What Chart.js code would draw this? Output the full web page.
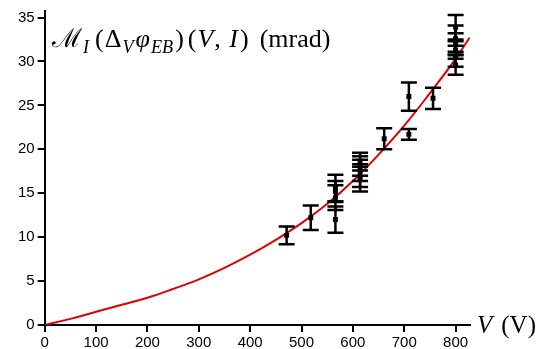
<!DOCTYPE html>
<html lang="en">
<head>
<meta charset="UTF-8" />
<title>M_I vs V</title>
<script src="https://cdn.jsdelivr.net/npm/chart.js"></script>
<style>
  html, body { margin: 0; padding: 0; background: #fff; }
  #wrap { width: 550px; height: 349px; }
</style>
</head>
<body>
<div id="wrap"><canvas id="chart"></canvas></div>
<script>
// measured points (V in volts, value in mrad, symmetric error)
const pointV = [471, 518, 566, 566, 566, 566, 614, 614, 614, 614, 614, 661, 709, 709, 756, 800, 800, 800, 800, 800, 800];
const pointM = [10.2, 12.2, 15.6, 15.2, 14.5, 12.0, 18.6, 18.1, 17.6, 17.0, 16.6, 21.2, 26.0, 21.7, 25.8, 33.9, 32.6, 32.0, 31.3, 30.6, 29.6];
const pointErr = [1.0, 1.4, 1.5, 1.2, 1.4, 1.5, 1.0, 1.1, 1.2, 1.3, 1.4, 1.2, 1.6, 0.6, 1.2, 1.4, 1.5, 1.2, 1.0, 1.2, 1.1];

// red fit curve
const curveV = [0, 50, 100, 150, 200, 250, 300, 350, 400, 450, 500, 550, 600, 650, 700, 750, 800, 827];
const curveM = [0, 0.7, 1.5, 2.3, 3.1, 4.1, 5.2, 6.5, 8.0, 9.7, 11.6, 13.8, 16.4, 19.4, 22.7, 26.4, 30.3, 32.7];

const xTicks = [0, 100, 200, 300, 400, 500, 600, 700, 800];
const yTicks = [0, 5, 10, 15, 20, 25, 30, 35];

const tickFont = { family: "'Liberation Sans', Arial, sans-serif", size: 15, lineHeight: 1 };
const serif = "'Liberation Serif', 'DejaVu Serif', serif";

// error bars via the scales (drawn under the square markers)
const errorBars = {
  id: "errorBars",
  beforeDatasetDraw(chart, args) {
    if (args.index !== 1) return;
    const { ctx, scales: { x, y } } = chart;
    ctx.save();
    ctx.strokeStyle = "#000";
    ctx.lineWidth = 2.5;
    pointV.forEach((v, i) => {
      const px = x.getPixelForValue(v);
      const top = y.getPixelForValue(pointM[i] + pointErr[i]);
      const bot = y.getPixelForValue(pointM[i] - pointErr[i]);
      ctx.beginPath();
      ctx.moveTo(px, top); ctx.lineTo(px, bot);
      ctx.moveTo(px - 8, top); ctx.lineTo(px + 8, top);
      ctx.moveTo(px - 8, bot); ctx.lineTo(px + 8, bot);
      ctx.stroke();
    });
    ctx.restore();
  }
};

// axis title texts (math style)
function drawPieces(ctx, pieces, x0, base, size) {
  let x = x0;
  pieces.forEach((p) => {
    const s = p.sub ? size * 0.7 : size;
    ctx.font = (p.it ? "italic " : "") + s + "px " + serif;
    ctx.fillText(p.t, x, base + (p.sub ? size * 0.22 : 0));
    x += ctx.measureText(p.t).width + (p.gap || 0);
  });
  return x;
}

const labels = {
  id: "labels",
  afterDraw(chart) {
    const ctx = chart.ctx;
    ctx.save();
    ctx.fillStyle = "#000";
    ctx.textBaseline = "alphabetic";
    drawPieces(ctx, [
      { t: "\u2133", gap: 1 },
      { t: "I", it: true, sub: true, gap: 6 },
      { t: "(", gap: 1 },
      { t: "\u0394", gap: 1 },
      { t: "V", it: true, sub: true, gap: 2 },
      { t: "\u03c6", it: true, gap: 1 },
      { t: "EB", it: true, sub: true, gap: 2 },
      { t: ")", gap: 4 },
      { t: "(", gap: 1 },
      { t: "V", it: true, gap: 1 },
      { t: ", ", gap: 2 },
      { t: "I", it: true, gap: 2 },
      { t: ")", gap: 11 },
      { t: "(mrad)" }
    ], 52, 47, 26);
    drawPieces(ctx, [
      { t: "V", it: true, gap: 9 },
      { t: "(V)" }
    ], 477, 333, 25);
    ctx.restore();
  }
};

new Chart(document.getElementById("chart"), {
  type: "scatter",
  data: {
    datasets: [
      {
        data: curveV.map((v, i) => ({ x: v, y: curveM[i] })),
        showLine: true,
        borderColor: "#e00000",
        borderWidth: 2,
        pointRadius: 0,
        tension: 0.4,
        order: 2
      },
      {
        data: pointV.map((v, i) => ({ x: v, y: pointM[i] })),
        pointStyle: "rect",
        pointRadius: 3.5,
        backgroundColor: "#000",
        borderColor: "#000",
        borderWidth: 0,
        order: 1
      }
    ]
  },
  options: {
    responsive: true,
    maintainAspectRatio: false,
    animation: false,
    layout: { padding: { left: 15, right: 80, top: 0, bottom: -4 } },
    plugins: { legend: { display: false }, tooltip: { enabled: false } },
    scales: {
      x: {
        type: "linear",
        min: 0,
        max: 828,
        afterBuildTicks: (axis) => { axis.ticks = xTicks.map((v) => ({ value: v })); },
        ticks: { color: "#000", font: tickFont, padding: 3, maxRotation: 0 },
        grid: { drawOnChartArea: false, color: "#000", lineWidth: 2, tickLength: 7 },
        border: { color: "#000", width: 2 }
      },
      y: {
        type: "linear",
        min: 0,
        max: 35.8,
        afterBuildTicks: (axis) => { axis.ticks = yTicks.map((v) => ({ value: v })); },
        ticks: { color: "#000", font: tickFont, padding: 3 },
        grid: { drawOnChartArea: false, color: "#000", lineWidth: 2, tickLength: 7 },
        border: { color: "#000", width: 2 }
      }
    }
  },
  plugins: [errorBars, labels]
});
</script>
</body>
</html>
